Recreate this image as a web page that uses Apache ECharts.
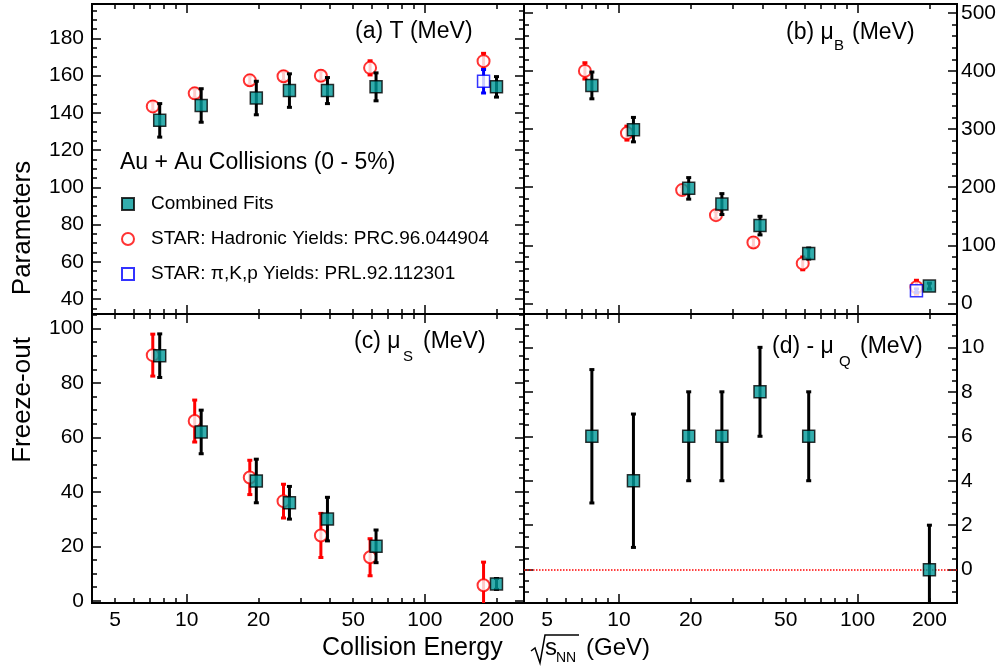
<!DOCTYPE html>
<html>
<head>
<meta charset="utf-8">
<script src="https://cdn.jsdelivr.net/npm/echarts@6/dist/echarts.min.js"></script>
<style>
  html, body { margin: 0; padding: 0; background: #fff; }
  #chart { width: 1008px; height: 668px; }
</style>
</head>
<body>
<div id="chart"></div>
<script>
// collision energies (GeV); STAR points are drawn slightly left of the fits
const energyFit = [7.7, 11.5, 19.6, 27, 39, 62.4, 200];
const energyStar = [7.2, 10.8, 18.4, 25.5, 36.6, 58.9, 176.5];
const energyPkp = [176.5];

// (a) temperature T (MeV)
const tFit = [136, 144, 148, 152, 152, 154, 154];
const tFitErr = [9, 9, 9, 9, 7, 7.5, 5.5];
const tStar = [143.5, 150.5, 157.5, 159.7, 160, 164.2, 167.8];
const tStarErr = [2.5, 2.5, 2.5, 2.5, 2.5, 3.8, 4.2];
const tPkp = [157];
const tPkpErr = [6.3];

// (b) mu_B (MeV)
const muBFit = [375, 299, 198, 171, 134, 86, 30];
const muBFitErr = [23, 21, 18.5, 18, 16, 9.5, 5];
const muBStar = [400, 293, 195, 152, 105, 69, 28];
const muBStarErr = [14, 12, 6, 6, 8, 11, 12];
const muBPkp = [22];
const muBPkpErr = [3];

// (c) mu_S (MeV)
const muSFit = [90, 62, 44, 36, 30, 20, 6.2];
const muSFitErr = [8, 8, 8, 6, 8, 6, 2];
const muSStar = [90.2, 66, 45.3, 36.6, 24, 16, 5.7];
const muSStarErr = [7.7, 7.7, 6.3, 6.2, 8.1, 6.8, 8.5];

// (d) -mu_Q (MeV)
const muQFit = [6, 4, 6, 6, 8, 6, 0];
const muQFitErr = [3, 3, 2, 2, 2, 2, 2];

// tick labels
const xTickLabels = [5, 10, 20, 50, 100, 200];
const xMinorTicks = [5, 6, 7, 8, 9, 20, 30, 40, 50, 60, 70, 80, 90, 200];
const xMajorTicks = [10, 100];
const tTicks = [40, 60, 80, 100, 120, 140, 160, 180];
const muBTicks = [0, 100, 200, 300, 400, 500];
const muSTicks = [0, 20, 40, 60, 80, 100];
const muQTicks = [0, 2, 4, 6, 8, 10];

const FONT = '"Liberation Sans", Arial, Helvetica, sans-serif';
const TEAL = '#009999';

function steps(from, to, step) {
  const out = [];
  for (let v = from; v <= to + 1e-9; v += step) out.push(+v.toFixed(3));
  return out;
}
function pts(xs, ys) { return xs.map((x, i) => [x, ys[i]]); }
function bars(xs, ys, es) { return xs.map((x, i) => [x, ys[i], es[i]]); }

const myChart = echarts.init(document.getElementById('chart'));

const grids = [
  { left: 92, top: 4, width: 432, height: 310 },
  { left: 524, top: 4, width: 433, height: 310 },
  { left: 92, top: 314, width: 432, height: 289 },
  { left: 524, top: 314, width: 433, height: 289 }
].map(g => Object.assign({
  show: true, borderColor: '#000', borderWidth: 2,
  backgroundColor: 'transparent', outerBoundsMode: 'none', containLabel: false
}, g));

const panels = [
  { xLabels: false, ySide: 'left', yMin: 32, yMax: 198.5, yTicks: tTicks, yMinor: steps(35, 195, 5) },
  { xLabels: false, ySide: 'right', yMin: -18, yMax: 515, yTicks: muBTicks, yMinor: steps(0, 500, 20) },
  { xLabels: true, ySide: 'left', yMin: -0.8, yMax: 105.3, yTicks: muSTicks, yMinor: steps(0, 105, 5) },
  { xLabels: true, ySide: 'right', yMin: -1.5, yMax: 11.5, yTicks: muQTicks, yMinor: steps(-1.5, 11.5, 0.5) }
];

const tickLine = { color: '#000', width: 1.5 };

function makeX(g, pos, ticks, len, showLabel) {
  return {
    type: 'log', logBase: 10, gridIndex: g, position: pos, min: 4, max: 261,
    axisLine: { show: false, onZero: false },
    splitLine: { show: false },
    axisTick: { show: true, inside: true, length: len, customValues: ticks, lineStyle: tickLine },
    axisLabel: {
      show: showLabel, customValues: xTickLabels,
      fontSize: 21, color: '#000', fontFamily: FONT, margin: 7
    }
  };
}

function makeY(g, p, pos, ticks, len, showLabel) {
  return {
    type: 'value', gridIndex: g, position: pos, min: p.yMin, max: p.yMax,
    axisLine: { show: false, onZero: false },
    splitLine: { show: false },
    axisTick: { show: true, inside: true, length: len, customValues: ticks, lineStyle: tickLine },
    axisLabel: {
      show: showLabel, customValues: p.yTicks,
      fontSize: 21, color: '#000', fontFamily: FONT, margin: pos === 'left' ? 8 : 4
    }
  };
}

const xAxisList = [];
const yAxisList = [];
const mainX = [];
const mainY = [];
panels.forEach((p, g) => {
  mainX.push(xAxisList.length);
  xAxisList.push(makeX(g, 'bottom', xMinorTicks, 5, p.xLabels));
  xAxisList.push(makeX(g, 'bottom', xMajorTicks, 9, false));
  xAxisList.push(makeX(g, 'top', xMinorTicks, 5, false));
  xAxisList.push(makeX(g, 'top', xMajorTicks, 9, false));

  const other = p.ySide === 'left' ? 'right' : 'left';
  mainY.push(yAxisList.length);
  yAxisList.push(makeY(g, p, p.ySide, p.yTicks, 9, true));
  yAxisList.push(makeY(g, p, p.ySide, p.yMinor, 5, false));
  yAxisList.push(makeY(g, p, other, p.yTicks, 9, false));
  yAxisList.push(makeY(g, p, other, p.yMinor, 5, false));
});

// vertical error bar with small end caps
function errorBar(color, width) {
  return function (params, api) {
    const x = api.value(0), y = api.value(1), e = api.value(2);
    const top = api.coord([x, y + e]);
    const bot = api.coord([x, y - e]);
    return {
      type: 'group',
      children: [
        { type: 'line', shape: { x1: top[0], y1: top[1], x2: bot[0], y2: bot[1] },
          style: { stroke: color, lineWidth: width } },
        { type: 'rect', shape: { x: top[0] - 2.5, y: top[1] - 1.5, width: 5, height: 3 }, style: { fill: color } },
        { type: 'rect', shape: { x: bot[0] - 2.5, y: bot[1] - 1.5, width: 5, height: 3 }, style: { fill: color } }
      ]
    };
  };
}

const NAME_FIT = 'Combined Fits';
const NAME_STAR = 'STAR: Hadronic Yields: PRC.96.044904';
const NAME_PKP = 'STAR: π,K,p Yields: PRL.92.112301';

const fitStyle = { color: TEAL, borderColor: '#000', borderWidth: 1.5 };
const starStyle = { color: '#fff', borderColor: '#ff0000', borderWidth: 2 };
const pkpStyle = { color: '#fff', borderColor: '#0000ff', borderWidth: 1.5 };

const series = [];
function addSet(g, name, xs, ys, es, symbol, style, barColor, z) {
  series.push({
    type: 'custom', name: name + ' err', xAxisIndex: mainX[g], yAxisIndex: mainY[g],
    clip: true, silent: true, z: z,
    renderItem: errorBar(barColor, 3),
    encode: { x: 0, y: 1 },
    data: bars(xs, ys, es)
  });
  series.push({
    type: 'scatter', name: name, xAxisIndex: mainX[g], yAxisIndex: mainY[g],
    symbol: symbol, symbolSize: 12, itemStyle: style, silent: true, z: z + 1,
    data: pts(xs, ys)
  });
}

// (a)
addSet(0, NAME_STAR, energyStar, tStar, tStarErr, 'circle', starStyle, '#ff0000', 2);
addSet(0, NAME_PKP, energyPkp, tPkp, tPkpErr, 'rect', pkpStyle, '#0000ff', 4);
addSet(0, NAME_FIT, energyFit, tFit, tFitErr, 'rect', fitStyle, '#000', 6);
// (b)
addSet(1, NAME_STAR, energyStar, muBStar, muBStarErr, 'circle', starStyle, '#ff0000', 2);
addSet(1, NAME_PKP, energyPkp, muBPkp, muBPkpErr, 'rect', pkpStyle, '#0000ff', 4);
addSet(1, NAME_FIT, energyFit, muBFit, muBFitErr, 'rect', fitStyle, '#000', 6);
// (c)
addSet(2, NAME_STAR, energyStar, muSStar, muSStarErr, 'circle', starStyle, '#ff0000', 2);
addSet(2, NAME_FIT, energyFit, muSFit, muSFitErr, 'rect', fitStyle, '#000', 6);
// (d)
addSet(3, NAME_FIT, energyFit, muQFit, muQFitErr, 'rect', fitStyle, '#000', 6);
series[series.length - 1].markLine = {
  silent: true, symbol: 'none', label: { show: false }, z: 1,
  lineStyle: { color: '#ff0000', type: 'dotted', width: 1.5 },
  data: [{ yAxis: 0 }]
};

function txt(text, x, y, size, extra) {
  return Object.assign({
    type: 'text', x: x, y: y, silent: true,
    style: { text: text, fontSize: size, fontFamily: FONT, fill: '#000', align: 'left', verticalAlign: 'middle' }
  }, extra || {});
}

const graphics = [
  // panel titles
  txt('(a) T (MeV)', 355, 32, 23),
  txt('(b) μ', 786, 33, 23), txt('B', 834, 46, 15), txt('(MeV)', 852, 33, 23),
  txt('(c) μ', 354, 342, 23), txt('S', 403, 357, 15), txt('(MeV)', 423, 342, 23),
  txt('(d) - μ', 772, 347, 23), txt('Q', 839, 362, 15), txt('(MeV)', 860, 347, 23),
  // legend header
  txt('Au + Au Collisions (0 - 5%)', 120, 163, 23),
  // axis titles
  txt('Parameters', 23, 228, 26, { rotation: Math.PI / 2, style: { text: 'Parameters', fontSize: 26, fontFamily: FONT, fill: '#000', align: 'center', verticalAlign: 'middle' } }),
  txt('Freeze-out', 23, 400, 26, { rotation: Math.PI / 2, style: { text: 'Freeze-out', fontSize: 26, fontFamily: FONT, fill: '#000', align: 'center', verticalAlign: 'middle' } }),
  txt('Collision Energy', 322, 648, 25),
  {
    type: 'polyline', silent: true,
    shape: { points: [[531, 651], [535, 648], [540, 663], [545, 635], [579, 635]] },
    style: { stroke: '#000', lineWidth: 1.5, fill: null }
  },
  txt('s', 545, 648, 24), txt('NN', 556, 658, 14), txt('(GeV)', 586, 648, 24)
];

const option = {
  animation: false,
  textStyle: { fontFamily: FONT },
  grid: grids,
  xAxis: xAxisList,
  yAxis: yAxisList,
  legend: {
    orient: 'vertical', left: 121, top: 193, padding: 0,
    itemWidth: 12, itemHeight: 12, itemGap: 13,
    selectedMode: false,
    textStyle: { fontSize: 19, fontFamily: FONT, color: '#000', padding: [0, 0, 0, 12], lineHeight: 22 },
    data: [NAME_FIT, NAME_STAR, NAME_PKP]
  },
  graphic: graphics,
  series: series
};

myChart.setOption(option);
</script>
</body>
</html>
